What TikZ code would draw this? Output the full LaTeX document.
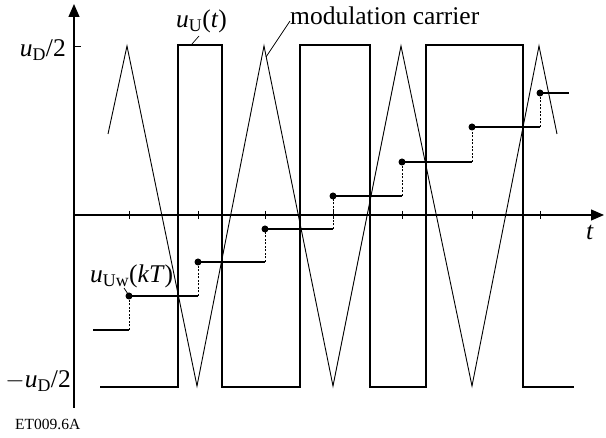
\documentclass[tikz,border=0pt]{standalone}
\usepackage{fontspec}
\setmainfont{Liberation Serif}
\usetikzlibrary{arrows.meta}
\newcommand{\lbl}[2]{\textit{#1}\textsubscript{#2}}
\tikzset{
  axisline/.style={line width=1.2pt,-{Triangle[length=13pt,width=11pt]}},
  carrier/.style={line width=0.9pt,line join=miter},
  pwm/.style={line width=2.4pt,line join=miter},
  stair/.style={line width=1.8pt},
  riser/.style={line width=0.7pt,dash pattern=on 2pt off 1.5pt},
  dotmark/.style={circle,fill=black,inner sep=0pt,minimum size=7pt},
  lab/.style={inner sep=0pt,font=\fontsize{25.5}{30}\selectfont},
  leader/.style={line width=0.7pt},
  tickmark/.style={line width=0.8pt}
}
\begin{document}
\begin{tikzpicture}[x=1pt,y=-1pt]
\useasboundingbox (0,0) rectangle (606,438);
% axes
\coordinate (o) at (74,215);
\coordinate (ytop) at (74,4);
\coordinate (ybot) at (74,408);
\coordinate (xl) at (74,215);
\coordinate (xr) at (604,215);
\draw[line width=1.2pt] (ybot) -- (o);
\draw[axisline] (o) -- (ytop);
\draw[axisline] (xl) -- (xr);
% ticks
\foreach \x in {129,198,265,333,402,472,540}
  \draw[tickmark] (\x,211) -- (\x,219);
\draw[tickmark] (74,46) -- (81,46);
% carrier
\draw[carrier] (108,134) -- (127,46) -- (197,386) -- (264,46) -- (333,386)
  -- (401,46) -- (472,386) -- (539,46) -- (557,134);
% PWM output
\draw[pwm] (100,387) -- (178,387) -- (178,45) -- (222,45) -- (222,387)
  -- (300,387) -- (300,45) -- (370,45) -- (370,387) -- (426,387)
  -- (426,45) -- (523,45) -- (523,387) -- (574,387);
% staircase
\draw[stair] (93,330) -- (129,330);
\foreach \xa/\xb/\ya/\yb in {129/198/330/296, 198/265/296/262, 265/333/262/229,
  333/402/229/196, 402/472/196/162, 472/540/162/127, 540/569/127/93}{
  \draw[riser] (\xa,\ya) -- (\xa,\yb);
  \node[dotmark] at (\xa,\yb) {};
  \draw[stair] (\xa,\yb) -- (\xb,\yb);
}
% labels
\node[lab,anchor=base east] (udp) at (66,57) {\lbl{u}{D}/2};
\node[lab,anchor=base east] (udm) at (71,388) {$-$\lbl{u}{D}/2};
\node[lab,anchor=base west] (uu) at (176,28) {\lbl{u}{U}(\textit{t})};
\node[lab,anchor=base west] (mc) at (290,25) {modulation carrier};
\node[lab,anchor=base west] (uw) at (90,283) {\lbl{u}{Uw}(\textit{kT})};
\node[lab,anchor=base] (tl) at (590,240) {\textit{t}};
\node[inner sep=0pt,anchor=base west,font=\fontsize{15.5}{18}\selectfont] (et) at (15,430) {ET009.6A};
% leaders
\coordinate (uuA) at (199,36); \coordinate (uuB) at (192,44);
\coordinate (mcA) at (290,21); \coordinate (mcB) at (266,57);
\coordinate (uwA) at (124,288); \coordinate (uwB) at (128,294);
\draw[leader] (uuA) -- (uuB);
\draw[leader] (mcA) -- (mcB);
\draw[leader] (uwA) -- (uwB);
\end{tikzpicture}
\end{document}
